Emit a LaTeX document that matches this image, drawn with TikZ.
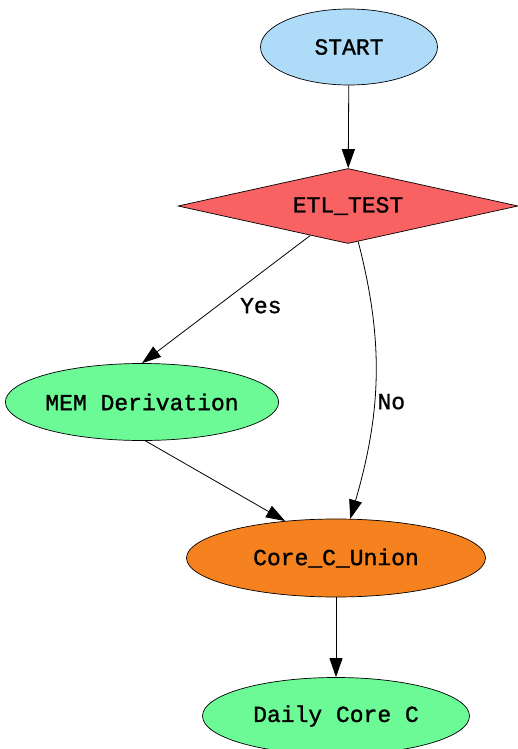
\documentclass[tikz,border=0pt]{standalone}
\usepackage{fontspec}
\newfontfamily\lblfont{Liberation Mono}[FakeBold=1.2]
\usepackage{xcolor}
\usepackage{tikz}
\usetikzlibrary{arrows.meta,positioning,shapes.geometric}
\definecolor{startblue}{HTML}{AEDCF8}
\definecolor{etlred}{HTML}{F86262}
\definecolor{jobgreen}{HTML}{6CFA96}
\definecolor{unionorange}{HTML}{F5821E}
\tikzset{
  lbl/.style={font=\lblfont\fontsize{23}{26}\selectfont},
  term/.style={draw, line width=0.7pt, ellipse, inner sep=0pt, lbl, fill=startblue,
               minimum width=177pt, minimum height=76pt},
  cond/.style={draw, line width=0.7pt, diamond, aspect=4.5, inner sep=0pt, lbl, fill=etlred,
               minimum width=340pt, minimum height=75pt},
  job/.style={draw, line width=0.7pt, ellipse, inner sep=0pt, lbl, fill=jobgreen,
              minimum width=267pt, minimum height=77pt},
  flow/.style={draw, line width=0.8pt, -{Triangle[length=19pt,width=13pt]}},
  elbl/.style={lbl, inner sep=2pt},
}

\begin{document}
\begin{tikzpicture}[x=1pt, y=1pt]
    \useasboundingbox (0,0) rectangle (518,-749);
    \node[term] (start) at (349,-47)  {START};
    \node[cond] (etl)   at (348,-206) {ETL\_TEST};
    \node[job]  (mem)   at (142,-402) {MEM Derivation};
    \node[job, fill=unionorange, minimum width=299pt, minimum height=78pt]
                (core)  at (336,-558) {Core\_C\_Union};
    \node[job]  (daily) at (336,-716) {Daily Core C};
    \draw[flow] (start) -- (etl);
    \draw[flow] (etl.218) -- node[elbl, pos=0.55, right=20pt]{Yes} (mem.north);
    \draw[flow] (etl.-74) .. controls +(25,-97) and +(32,110) .. node[elbl, pos=0.6, right=1pt]{No} (core.70);
    \draw[flow] (mem.-85) -- (core.144);
    \draw[flow] (core) -- (daily);
  \end{tikzpicture}
\end{document}
